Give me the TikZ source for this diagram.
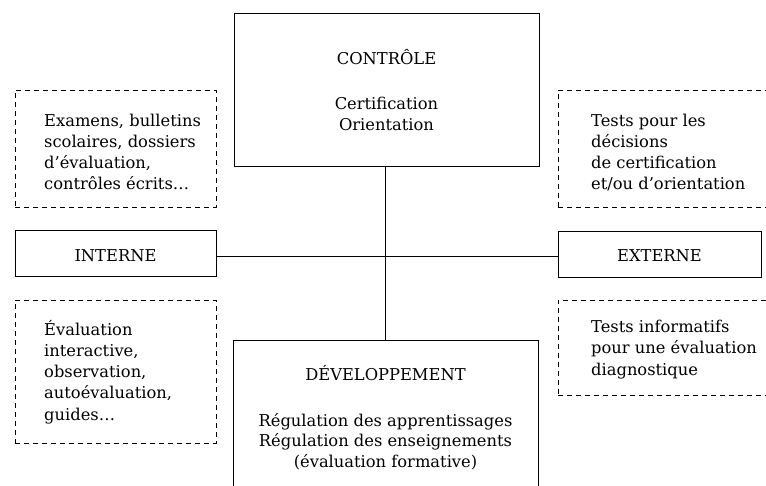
\documentclass[tikz,border=0pt]{standalone}
\usepackage{fontspec}
\setmainfont{DejaVu Serif}
\begin{document}
\begin{tikzpicture}[x=1pt,y=-1pt,
  solidbox/.style={draw, line width=1pt, rectangle, inner sep=0pt},
  dashbox/.style={draw, line width=0.9pt, dash pattern=on 5pt off 4pt, rectangle, inner sep=0pt},
  txt/.style={font=\fontsize{16.3}{21.2}\selectfont, inner sep=0pt},
  tight/.style={font=\fontsize{16.3}{20.3}\selectfont},
  link/.style={line width=1pt}]
\useasboundingbox (0,0) rectangle (766,486);
\clip (0,0) rectangle (766,486);

% boxes
\node[solidbox, minimum width=305pt, minimum height=153pt] (ctrl) at (386.5,90.5) {};
\node[solidbox, minimum width=305pt, minimum height=164pt] (dev) at (385.5,423) {};
\node[solidbox, minimum width=201pt, minimum height=46pt] (interne) at (115.5,254) {};
\node[solidbox, minimum width=203pt, minimum height=46pt] (externe) at (659.5,255) {};
\node[dashbox, minimum width=201pt, minimum height=117pt] (lt) at (115.5,148.5) {};
\node[dashbox, minimum width=201pt, minimum height=143pt] (lb) at (115.5,371.5) {};
\node[dashbox, minimum width=214pt, minimum height=117pt] (rt) at (665,148.5) {};
\node[dashbox, minimum width=214pt, minimum height=95pt] (rb) at (665,347.5) {};

% texts (base anchor = baseline of the last line)
\node[txt, anchor=base] (ctrlt) at (386.5,65) {CONTRÔLE};
\node[txt, align=center, anchor=base] (ctrls) at (386.5,131) {Certification\\Orientation};
\node[txt, anchor=base] (internet) at (115.5,262) {INTERNE};
\node[txt, anchor=base] (externet) at (659.5,262) {EXTERNE};
\node[txt, align=left, anchor=base west] (ltt) at (44,190) {Examens, bulletins\\scolaires, dossiers\\d’évaluation,\\contrôles écrits…};
\node[txt, align=left, anchor=base west] (rtt) at (591,190) {Tests pour les\\décisions\\de certification\\et/ou d’orientation};
\node[txt, align=left, anchor=base west] (lbt) at (44,420) {Évaluation\\interactive,\\observation,\\autoévaluation,\\guides…};
\node[txt, align=left, anchor=base west] (rbt) at (591,375) {Tests informatifs\\pour une évaluation\\diagnostique};
\node[txt, anchor=base] (devt) at (385.5,381) {DÉVELOPPEMENT};
\node[txt, tight, align=center, anchor=base] (devs) at (385.5,467) {Régulation des apprentissages\\Régulation des enseignements\\(évaluation formative)};

% connectors
\draw[link] (ctrl.south -| dev.north) -- (dev.north);
\draw[link] ([yshift=-2.5pt]interne.east) -- ([yshift=-2.5pt]interne.east -| externe.west);
\end{tikzpicture}
\end{document}
